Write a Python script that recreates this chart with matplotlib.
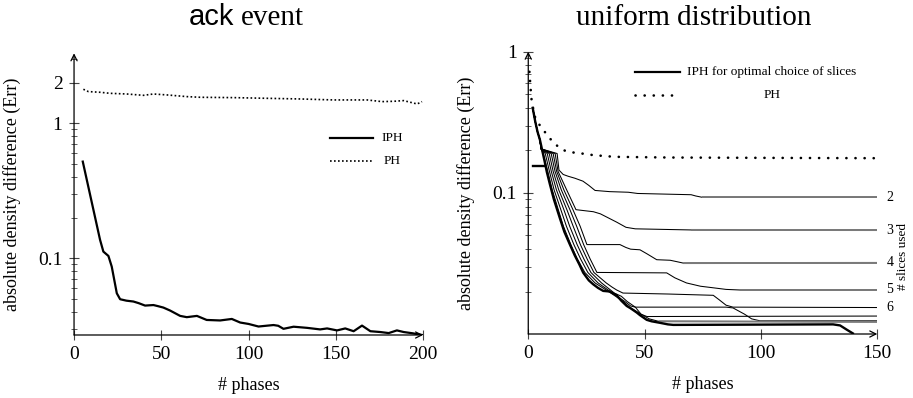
import matplotlib
matplotlib.use('Agg')
import matplotlib.pyplot as plt
from matplotlib.ticker import LogLocator, NullFormatter

plt.rcParams['font.family'] = ['Liberation Serif', 'DejaVu Serif']

# ---------------- left panel: ack event ----------------
ack_iph_x = [5, 14.9, 16.8, 19.7, 21.6, 24.5, 26.4, 30, 34, 37, 40.7, 45.5, 48, 51.2, 55,
             60.8, 64.6, 70.4, 76, 83.7, 90.4, 95.2, 100, 105.7, 110, 114.3, 117, 120,
             125.8, 133.5, 141, 145, 150.7, 155.4, 160.2, 165, 169.8, 175.5, 180.3, 185,
             188.9, 194, 199.4]
ack_iph_y = [0.52, 0.137, 0.112, 0.104, 0.0867, 0.055, 0.0497, 0.0485, 0.0478, 0.0465,
             0.0446, 0.0450, 0.0442, 0.0431, 0.041, 0.0374, 0.0366, 0.0374, 0.0349, 0.0346,
             0.0355, 0.0334, 0.0326, 0.0312, 0.0316, 0.0320, 0.0316, 0.0300, 0.0311, 0.0305,
             0.0297, 0.0302, 0.0292, 0.0302, 0.0288, 0.0317, 0.0288, 0.0284, 0.0279, 0.0292,
             0.0284, 0.0278, 0.027]
ack_ph_x = [5.35, 8.2, 14.9, 20.6, 30.2, 39.8, 45.5, 53.2, 64.6, 72.3, 91.4, 110.5, 129.6,
            148.8, 167.9, 176.5, 183.2, 188.9, 196.6, 199.4]
ack_ph_y = [1.786, 1.717, 1.697, 1.667, 1.648, 1.611, 1.648, 1.622, 1.576, 1.558, 1.549,
            1.531, 1.514, 1.489, 1.489, 1.447, 1.455, 1.472, 1.39, 1.447]
ack_xticks = [0, 50, 100, 150, 200]
ack_yticks = [0.1, 1, 2]
ack_yticklabels = ['0.1', '1', '2']

# ---------------- right panel: uniform distribution ----------------
uni_ph_x = [0.5, 1, 1.5, 3, 5, 7.5, 10.5, 13.5, 16, 19.5, 23, 28, 37, 60, 100, 150]
uni_ph_y = [0.72, 0.55, 0.44, 0.34, 0.30, 0.265, 0.23, 0.208, 0.198, 0.193, 0.19, 0.185,
            0.18, 0.178, 0.177, 0.176]
uni_opt_x = [1.9, 3, 4, 5, 6, 7, 8, 9.3, 11, 13.6, 15.5, 17.9, 20, 22, 23.6, 26, 27.9, 30,
             32.2, 35, 38, 40, 42.3, 44, 46.6, 48, 50.9, 53, 56.6, 60, 62.3, 131, 134, 137,
             139.5]
uni_opt_y = [0.40, 0.32, 0.27, 0.238, 0.2, 0.168, 0.14, 0.115, 0.09, 0.066, 0.053, 0.043,
             0.036, 0.031, 0.0272, 0.024, 0.0225, 0.0212, 0.0202, 0.02, 0.0188, 0.0172,
             0.0158, 0.0152, 0.0142, 0.0136, 0.0126, 0.0123, 0.012, 0.0117, 0.0116, 0.0117,
             0.0115, 0.0107, 0.0101]
uni_mark_x = [2, 6.8]
uni_mark_y = [0.154, 0.154]

slices2_x = [1.9, 3, 4, 5, 5.5, 12.4, 13.2, 15, 17.2, 20, 23.5, 26, 28.7, 35, 43, 47, 70, 72,
             74.5, 150]
slices2_y = [0.40, 0.32, 0.27, 0.238, 0.205, 0.19, 0.145, 0.135, 0.131, 0.127, 0.121, 0.113,
             0.104, 0.102, 0.101, 0.099, 0.097, 0.095, 0.0932, 0.0932]
slices3_x = [1.9, 3, 4, 5, 5.5, 11.55, 12.8, 16.5, 20.5, 28, 31, 34, 38, 42, 46, 70, 150]
slices3_y = [0.40, 0.32, 0.27, 0.238, 0.205, 0.19, 0.142, 0.105, 0.076, 0.0735, 0.071, 0.067,
             0.062, 0.057, 0.0556, 0.0546, 0.0545]
slices4_x = [1.9, 3, 4, 5, 5.5, 10.7, 12.2, 15.3, 19.2, 22.3, 25.2, 39.4, 42, 44, 48, 51, 55.2,
             61, 64, 66.6, 150]
slices4_y = [0.40, 0.32, 0.27, 0.238, 0.205, 0.19, 0.142, 0.105, 0.076, 0.058, 0.043, 0.043,
             0.041, 0.0399, 0.0395, 0.037, 0.0336, 0.0333, 0.0325, 0.0318, 0.0319]
slices5_x = [1.9, 3, 4, 5, 5.5, 9.85, 11.5, 14.2, 17.9, 20.8, 23.8, 26.6, 29.5, 45, 59.5, 63,
             68, 74, 79, 85, 91, 150]
slices5_y = [0.40, 0.32, 0.27, 0.238, 0.205, 0.19, 0.142, 0.105, 0.076, 0.058, 0.043, 0.034,
             0.0273, 0.0272, 0.0271, 0.025, 0.023, 0.0218, 0.0213, 0.0207, 0.0205, 0.0205]
slices6_x = [1.9, 3, 4, 5, 5.5, 9.0, 10.7, 13.1, 16.6, 19.3, 22.4, 25.3, 28.2, 33.5, 36, 38,
             40.7, 60, 79.5, 82, 85, 88, 150]
slices6_y = [0.40, 0.32, 0.27, 0.238, 0.205, 0.19, 0.142, 0.105, 0.076, 0.058, 0.043, 0.034,
             0.0273, 0.023, 0.0215, 0.0205, 0.0195, 0.0192, 0.0188, 0.0175, 0.016, 0.0155,
             0.0154]
slices7_x = [1.9, 3, 4, 5, 5.5, 8.15, 9.9, 12.1, 15.3, 17.8, 21, 23.9, 26.9, 31.5, 37, 40,
             42.5, 46, 85, 88, 93, 96, 99.6, 150]
slices7_y = [0.40, 0.32, 0.27, 0.238, 0.205, 0.19, 0.142, 0.105, 0.076, 0.058, 0.043, 0.034,
             0.0273, 0.023, 0.0195, 0.0185, 0.017, 0.0155, 0.0155, 0.0153, 0.0138, 0.0128,
             0.0124, 0.0124]
slices8_x = [1.9, 3, 4, 5, 5.5, 7.3, 9.1, 11.1, 14, 16.4, 19.6, 22.5, 25.6, 30, 36.2, 41.5,
             44, 46, 48.5, 51, 150]
slices8_y = [0.40, 0.32, 0.27, 0.238, 0.205, 0.19, 0.142, 0.105, 0.076, 0.058, 0.043, 0.034,
             0.0273, 0.023, 0.0195, 0.017, 0.0158, 0.0155, 0.0138, 0.0133, 0.0134]
slices9_x = [1.9, 3, 4, 5, 5.5, 6.45, 8.4, 10.3, 12.9, 15.1, 18.3, 21.1, 24.3, 28.7, 35.5,
             40.8, 43.5, 48.5, 52, 56, 150]
slices9_y = [0.40, 0.32, 0.27, 0.238, 0.205, 0.19, 0.142, 0.105, 0.076, 0.058, 0.043, 0.034,
             0.0273, 0.023, 0.0195, 0.017, 0.0155, 0.0138, 0.0128, 0.0123, 0.0122]
slice_curves = [(slices2_x, slices2_y), (slices3_x, slices3_y), (slices4_x, slices4_y),
                (slices5_x, slices5_y), (slices6_x, slices6_y), (slices7_x, slices7_y),
                (slices8_x, slices8_y), (slices9_x, slices9_y)]
gray_tail_curves = [(slices2_x, slices2_y), (slices3_x, slices3_y), (slices4_x, slices4_y),
                    (slices9_x, slices9_y)]
slice_labels = ['2', '3', '4', '5', '6']
uni_xticks = [0, 50, 100, 150]
uni_yticks = [0.1, 1]
uni_yticklabels = ['0.1', '1']

FS = 13
TFS = 14
LEG = 9.5

fig = plt.figure(figsize=(9.13, 3.98), dpi=100)
axL = fig.add_axes([0.0811, 0.1583, 0.3823, 0.7078])
axR = fig.add_axes([0.5786, 0.1608, 0.3823, 0.7093])


def style(ax, xmax, ylo, yhi, xticks, yticks, ylabels):
    ax.set_yscale('log')
    ax.set_xlim(0, xmax)
    ax.set_ylim(ylo, yhi)
    for s in ax.spines.values():
        s.set_visible(False)
    ap = dict(arrowstyle='->', lw=0.9, color='black', shrinkA=0, shrinkB=0,
              mutation_scale=11)
    ax.annotate('', xy=(1, 0), xytext=(0, 0), xycoords='axes fraction',
                textcoords='axes fraction', arrowprops=ap, annotation_clip=False)
    ax.annotate('', xy=(0, 1), xytext=(0, 0), xycoords='axes fraction',
                textcoords='axes fraction', arrowprops=ap, annotation_clip=False)
    ax.set_xticks(xticks)
    ax.set_yticks(yticks)
    ax.set_yticklabels(ylabels)
    ax.yaxis.set_minor_locator(LogLocator(base=10, subs=[2, 3, 4, 5, 6, 7, 8, 9], numticks=20))
    ax.yaxis.set_minor_formatter(NullFormatter())
    ax.tick_params(which='major', direction='inout', length=7.5, width=0.8,
                   labelsize=TFS, pad=4.5, color='#444444')
    ax.tick_params(which='minor', direction='inout', length=4.5, width=0.6,
                   color='#444444')
    ax.set_xlabel('# phases', fontsize=FS)
    ax.set_ylabel('absolute density difference (Err)', fontsize=FS)
    ax.xaxis.set_label_coords(0.5, -0.15)
    ax.yaxis.set_label_coords(-0.152, 0.5)


style(axL, 200, 0.027, 3.3, ack_xticks, ack_yticks, ack_yticklabels)
style(axR, 150, 0.01, 1.0, uni_xticks, uni_yticks, uni_yticklabels)

# left curves
axL.plot(ack_iph_x, ack_iph_y, color='black', lw=1.6, solid_joinstyle='round')
axL.plot(ack_ph_x, ack_ph_y, color='black', lw=1.2, linestyle=(0, (1, 1.4)))
# left legend
axL.plot([0.733, 0.857], [0.699, 0.699], transform=axL.transAxes, color='black', lw=1.6)
axL.plot([0.733, 0.857], [0.619, 0.619], transform=axL.transAxes, color='black', lw=1.2,
         linestyle=(0, (1, 1.4)))
axL.text(0.911, 0.699, 'IPH', transform=axL.transAxes, ha='center', va='center', fontsize=LEG)
axL.text(0.911, 0.619, 'PH', transform=axL.transAxes, ha='center', va='center', fontsize=LEG)

# right curves
for cx, cy in slice_curves:
    axR.plot(cx, cy, color='black', lw=0.75)
for cx, cy in gray_tail_curves:
    axR.plot(cx[-2:], cy[-2:], color='#7a7a7a', lw=1.4, solid_capstyle='butt')
axR.plot(uni_opt_x, uni_opt_y, color='black', lw=1.7)
axR.plot(uni_mark_x, uni_mark_y, color='black', lw=1.7)
DOTS = (0, (0.05, 3.4))
axR.plot(uni_ph_x, uni_ph_y, color='black', lw=1.9, linestyle=DOTS, dash_capstyle='round')
for lab, (cx, cy) in zip(slice_labels, slice_curves):
    axR.text(154, cy[-1], lab, ha='left', va='center', fontsize=10, clip_on=False)
axR.text(1.074, 0.273, '# slices used', transform=axR.transAxes, rotation=90,
         ha='center', va='center', fontsize=LEG)
# right legend
axR.plot([0.306, 0.435], [0.927, 0.927], transform=axR.transAxes, color='black', lw=1.6)
axR.plot([0.306, 0.435], [0.847, 0.847], transform=axR.transAxes, color='black', lw=1.9,
         linestyle=DOTS, dash_capstyle='round')
axR.text(0.698, 0.927, 'IPH for optimal choice of slices', transform=axR.transAxes,
         ha='center', va='center', fontsize=LEG)
axR.text(0.698, 0.847, 'PH', transform=axR.transAxes, ha='center', va='center', fontsize=LEG)

# titles
ty = 1 - 25 / 398
fig.text(234 / 913, ty, 'ack', ha='right', va='baseline', fontsize=21,
         family='Liberation Sans')
fig.text(241 / 913, ty, 'event', ha='left', va='baseline', fontsize=21)
fig.text(694 / 913, ty, 'uniform distribution', ha='center', va='baseline', fontsize=21)

fig.savefig('out.png', dpi=100)
